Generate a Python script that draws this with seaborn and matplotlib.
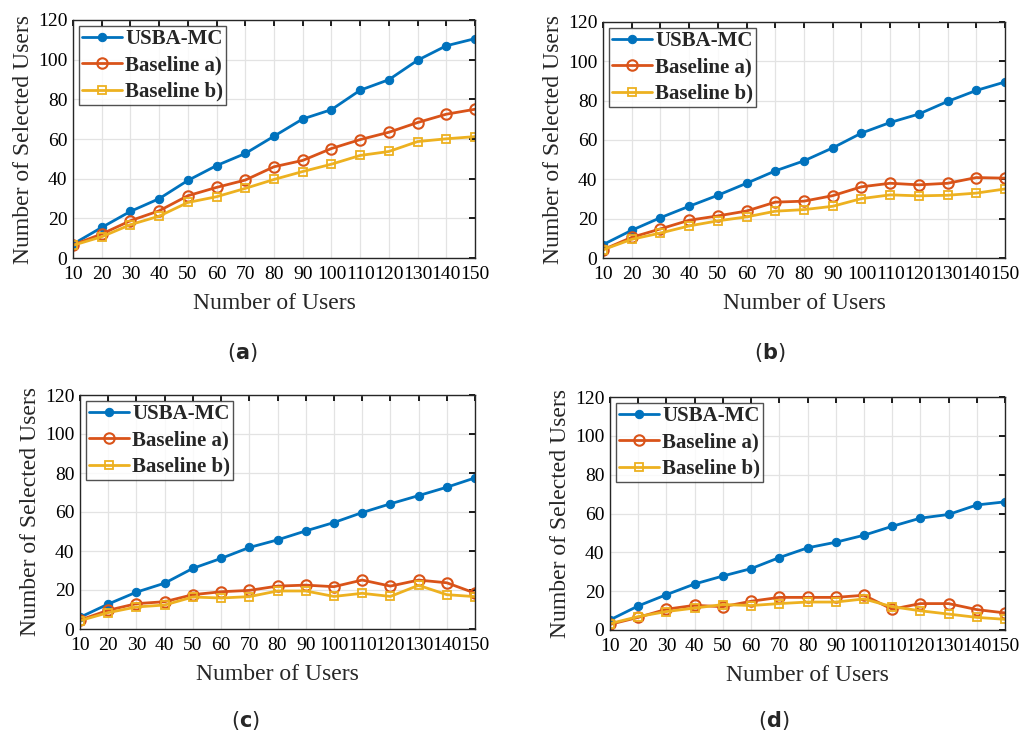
import seaborn as sns
import matplotlib.pyplot as plt
import pandas as pd
import numpy as np

users = [10, 20, 30, 40, 50, 60, 70, 80, 90, 100, 110, 120, 130, 140, 150]
methods = ["USBA-MC", "Baseline a)", "Baseline b)"]
panel_labels = ["a", "b", "c", "d"]

usba_a = [7, 15.4, 23.5, 29.9, 39.1, 46.6, 52.7, 61.4, 70.1, 74.8, 84.6, 89.9, 99.7, 107, 110.6]
base_a_a = [6.6, 12.1, 18.8, 23.8, 31.4, 35.6, 39.3, 46, 49.2, 55.2, 59.7, 63.4, 68.3, 72.5, 75]
base_b_a = [6.4, 10.7, 16.8, 21.1, 28, 30.9, 35.1, 39.6, 43.6, 47.3, 51.7, 53.7, 58.7, 60.1, 61.2]

usba_b = [6.8, 14.1, 20.5, 26.3, 31.9, 38, 44.3, 49.4, 56, 63.5, 68.9, 73.2, 79.6, 85.2, 89.5]
base_a_b = [4.2, 10.5, 14.8, 19.2, 21.4, 23.9, 28.4, 28.9, 31.7, 36.2, 38, 37.2, 38, 40.9, 40.6]
base_b_b = [4.2, 9.5, 12.7, 16.3, 18.9, 20.9, 23.8, 24.6, 26.3, 30.2, 32.1, 31.6, 31.9, 33, 35.1]

usba_c = [6, 12.8, 18.9, 23.5, 31.1, 36.2, 41.8, 45.7, 50.3, 54.6, 59.7, 64.2, 68.4, 72.7, 77.5]
base_a_c = [4.6, 9.6, 13, 14, 17.6, 19.1, 19.8, 22, 22.5, 21.7, 25.1, 22, 25.1, 23.7, 18.4]
base_b_c = [4.3, 8.4, 11.3, 12.3, 16.4, 15.9, 16.6, 19.5, 19.5, 16.7, 18.3, 16.7, 22.4, 17.6, 16.6]

usba_d = [5.2, 12.4, 18.2, 23.7, 27.8, 31.6, 37.3, 42.3, 45.2, 48.8, 53.4, 57.6, 59.5, 64.4, 66]
base_a_d = [2.9, 6.5, 10.7, 12.7, 12, 14.8, 16.8, 16.8, 16.8, 17.9, 10.7, 13.6, 13.6, 10.5, 8.8]
base_b_d = [3.3, 6.9, 9.5, 11.3, 13.1, 12.6, 13.6, 14.4, 14.4, 16, 12, 9.9, 8.2, 6.5, 5.5]

panels = [
    (usba_a, base_a_a, base_b_a),
    (usba_b, base_a_b, base_b_b),
    (usba_c, base_a_c, base_b_c),
    (usba_d, base_a_d, base_b_d),
]

colors = {"USBA-MC": "#0072BD", "Baseline a)": "#D95319", "Baseline b)": "#EDB120"}

sns.set_theme(style="white")
plt.rcParams["font.family"] = ["Liberation Serif", "DejaVu Serif"]

fig = plt.figure(figsize=(10.22, 7.36), dpi=100)
W, H = 1022, 736
# axes boxes in pixels: left, top, right, bottom
boxes = [(73, 20, 475, 258), (603, 22, 1005, 258), (80, 395, 475, 629), (610, 397, 1005, 630)]
# sub-caption centres in pixels
caps = [(242, 352), (770, 352), (245, 720), (774, 720)]

for i, (vals, box) in enumerate(zip(panels, boxes)):
    l, t, r, b = box
    ax = fig.add_axes([l / W, 1 - b / H, (r - l) / W, (b - t) / H])
    df = pd.DataFrame({
        "users": users * 3,
        "value": vals[0] + vals[1] + vals[2],
        "method": [m for m in methods for _ in users],
    })
    sns.lineplot(data=df, x="users", y="value", hue="method", style="method",
                 palette=colors, markers={"USBA-MC": "o", "Baseline a)": "o", "Baseline b)": "s"},
                 dashes=False, linewidth=2, ax=ax, legend=False)
    lines = ax.get_lines()
    for line, m in zip(lines, methods):
        c = colors[m]
        line.set_markeredgecolor(c)
        if m == "USBA-MC":
            line.set_markerfacecolor(c)
            line.set_markersize(6)
        elif m == "Baseline a)":
            line.set_markerfacecolor("none")
            line.set_markeredgewidth(1.5)
            line.set_markersize(7.5)
        else:
            line.set_markerfacecolor("none")
            line.set_markeredgewidth(1.3)
            line.set_markersize(6)
    ax.set_xlim(10, 150)
    ax.set_ylim(0, 120)
    ax.set_xticks(users)
    ax.set_yticks(range(0, 121, 20))
    ax.tick_params(axis="both", direction="in", length=4, labelsize=14, colors="black",
                   top=True, right=True)
    ax.tick_params(axis="x", pad=6)
    ax.tick_params(axis="y", pad=4)
    ax.grid(True, color="#e3e3e3", linewidth=0.9)
    for s in ax.spines.values():
        s.set_color("#262626")
        s.set_linewidth(1.0)
    ax.set_xlabel("Number of Users", fontsize=17, color="#262626", labelpad=7)
    ax.set_ylabel("Number of Selected Users", fontsize=17, color="#262626", labelpad=3)
    leg = ax.legend(lines, methods, loc="upper left", frameon=True, fancybox=False,
                    prop={"weight": "bold", "size": 15}, handlelength=1.9,
                    borderpad=0.15, labelspacing=0.3, handletextpad=0.15,
                    borderaxespad=0.3)
    leg.get_frame().set_edgecolor("#262626")
    leg.get_frame().set_linewidth(1.0)
    cx, cy = caps[i]
    fig.text(cx / W, 1 - cy / H, "(" + r"$\mathbf{" + panel_labels[i] + "}$" + ")",
             ha="center", va="center", fontsize=15, family="DejaVu Sans")

fig.savefig("out.png", dpi=100)
